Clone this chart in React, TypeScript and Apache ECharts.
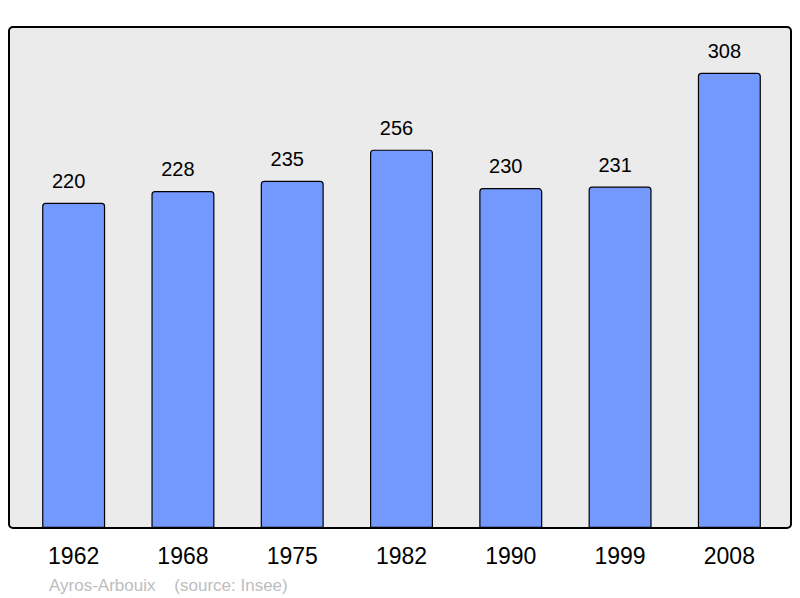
import React, { useEffect, useRef } from "react";
import * as echarts from "echarts";

const years = ["1962", "1968", "1975", "1982", "1990", "1999", "2008"];
const population = [220, 228, 235, 256, 230, 231, 308];
const footerText = "Ayros-Arbouix    (source: Insee)";

export default function App() {
  const ref = useRef<HTMLDivElement>(null);
  useEffect(() => {
    const chart = echarts.init(ref.current!, null, { renderer: "svg" });
    chart.setOption({
      animation: false,
      backgroundColor: "#ffffff",
      textStyle: { fontFamily: "Liberation Sans, Arial, sans-serif" },
      grid: { left: 19, right: 16, top: 27, bottom: 70 },
      graphic: [
        {
          type: "rect",
          z: -10,
          shape: { x: 9, y: 27, width: 782, height: 501, r: 4 },
          style: { fill: "#ebebeb", stroke: "#000000", lineWidth: 2 },
        },
        {
          type: "text",
          x: 49,
          y: 585,
          style: {
            text: footerText,
            fill: "#bdbdbd",
            fontSize: 17,
            fontFamily: "Liberation Sans, Arial, sans-serif",
            verticalAlign: "middle",
          },
        },
      ],
      xAxis: {
        type: "category",
        data: years,
        axisLine: { show: false },
        axisTick: { show: false },
        axisLabel: { color: "#000", fontSize: 23, margin: 16 },
      },
      yAxis: {
        type: "value",
        min: 0,
        max: 339,
        show: false,
        splitLine: { show: false },
      },
      series: [
        {
          type: "bar",
          data: population,
          barWidth: 63,
          z: 5,
          itemStyle: {
            color: "#7399ff",
            borderColor: "#000000",
            borderWidth: 1.2,
            borderRadius: [3, 3, 0, 0],
          },
          label: {
            show: true,
            position: "top",
            distance: 12,
            offset: [-5, 0],
            color: "#000",
            fontSize: 20,
          },
        },
      ],
    });
    return () => chart.dispose();
  }, []);
  return <div ref={ref} style={{ width: 800, height: 598, position: "absolute", left: 0, top: 0 }} />;
}
